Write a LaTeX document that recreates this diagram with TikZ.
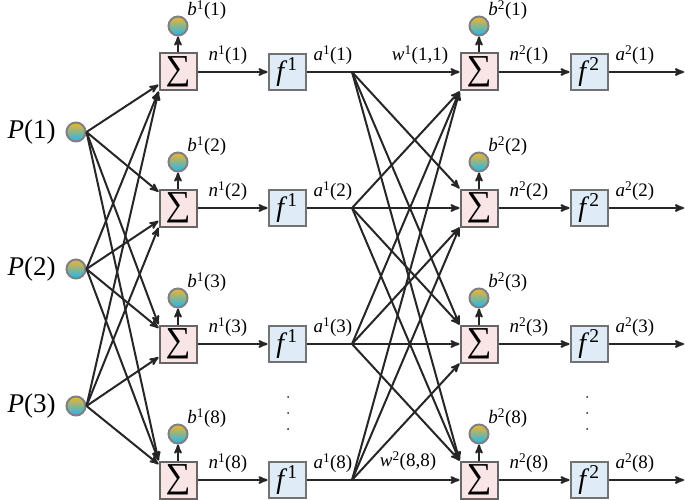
\documentclass[tikz,border=0pt]{standalone}
\usepackage{xcolor}
\usepackage{fontspec}
\setmainfont{Liberation Serif}
\usepackage{tikz}
\usetikzlibrary{arrows, positioning}

\definecolor{sumfill}{HTML}{F9E5E5}
\definecolor{actfill}{HTML}{DFECF8}
\definecolor{balltop}{HTML}{F3B52A}
\definecolor{ballmid}{HTML}{C6CCC4}
\definecolor{ballbot}{HTML}{1CB6F5}
\definecolor{edge}{HTML}{262626}

\tikzset{
	ball/.style={circle, draw=gray, top color=balltop, middle color=ballmid, bottom color=ballbot, minimum size=19pt, inner sep=0pt},
	sumbox/.style={draw=black!60, fill=sumfill, minimum width=37pt, minimum height=37pt, inner sep=0pt, font=\fontsize{35}{35}\selectfont},
	actbox/.style={draw=black!55, fill=actfill, minimum width=37pt, minimum height=36pt, inner sep=0pt, font=\fontsize{28}{28}\selectfont},
	lbl/.style={inner sep=1pt, font=\fontsize{19}{19}\selectfont},
	inlbl/.style={inner sep=1pt, font=\fontsize{27}{27}\selectfont}
}

\begin{document}
\begin{tikzpicture}[x=1pt, y=-1pt,
					->,
					>=stealth',
					line width=2pt,
					draw=edge]
					\useasboundingbox (0,0) rectangle (685,500);

					% inputs
					\node[ball] (in1) at (76,132) {};
					\node[ball] (in2) at (76,269) {};
					\node[ball] (in3) at (76,406) {};
					\node[inlbl] (tin1) [left=8pt of in1] {\textit{P}(1)};
					\node[inlbl] (tin2) [left=8pt of in2] {\textit{P}(2)};
					\node[inlbl] (tin3) [left=8pt of in3] {\textit{P}(3)};

					% layer 1
					\node[sumbox] (sa1) at (178,72) {∑};
					\node[sumbox] (sa2) at (178,208) {∑};
					\node[sumbox] (sa3) at (178,344) {∑};
					\node[sumbox] (sa4) at (178,480) {∑};
					\node[ball] (ba1) [above=16pt of sa1] {};
					\node[ball] (ba2) [above=16pt of sa2] {};
					\node[ball] (ba3) [above=16pt of sa3] {};
					\node[ball] (ba4) [above=16pt of sa4] {};
					\node[lbl, anchor=south west] (tba1) at ([yshift=-3pt]ba1.north east) {\textit{b}\textsuperscript{1}(1)};
					\node[lbl, anchor=south west] (tba2) at ([yshift=-3pt]ba2.north east) {\textit{b}\textsuperscript{1}(2)};
					\node[lbl, anchor=south west] (tba3) at ([yshift=-3pt]ba3.north east) {\textit{b}\textsuperscript{1}(3)};
					\node[lbl, anchor=south west] (tba4) at ([yshift=-3pt]ba4.north east) {\textit{b}\textsuperscript{1}(8)};
					\node[actbox] (fa1) at (287,72) {\textit{f}\textsuperscript{1}};
					\node[actbox] (fa2) at (287,208) {\textit{f}\textsuperscript{1}};
					\node[actbox] (fa3) at (287,344) {\textit{f}\textsuperscript{1}};
					\node[actbox] (fa4) at (287,480) {\textit{f}\textsuperscript{1}};
					\node[lbl, anchor=south west] (tna1) at ([xshift=9pt, yshift=5pt]sa1.east) {\textit{n}\textsuperscript{1}(1)};
					\node[lbl, anchor=south west] (tna2) at ([xshift=9pt, yshift=5pt]sa2.east) {\textit{n}\textsuperscript{1}(2)};
					\node[lbl, anchor=south west] (tna3) at ([xshift=9pt, yshift=5pt]sa3.east) {\textit{n}\textsuperscript{1}(3)};
					\node[lbl, anchor=south west] (tna4) at ([xshift=9pt, yshift=5pt]sa4.east) {\textit{n}\textsuperscript{1}(8)};
					\node[lbl, anchor=south west] (taa1) at ([xshift=5pt, yshift=5pt]fa1.east) {\textit{a}\textsuperscript{1}(1)};
					\node[lbl, anchor=south west] (taa2) at ([xshift=5pt, yshift=5pt]fa2.east) {\textit{a}\textsuperscript{1}(2)};
					\node[lbl, anchor=south west] (taa3) at ([xshift=5pt, yshift=5pt]fa3.east) {\textit{a}\textsuperscript{1}(3)};
					\node[lbl, anchor=south west] (taa4) at ([xshift=5pt, yshift=5pt]fa4.east) {\textit{a}\textsuperscript{1}(8)};
					\coordinate (ja1) at (352,72);
					\coordinate (ja2) at (352,208);
					\coordinate (ja3) at (352,344);
					\coordinate (ja4) at (352,480);

					% layer 2
					\node[sumbox] (sb1) at (479,72) {∑};
					\node[sumbox] (sb2) at (479,208) {∑};
					\node[sumbox] (sb3) at (479,344) {∑};
					\node[sumbox] (sb4) at (479,480) {∑};
					\node[ball] (bb1) [above=16pt of sb1] {};
					\node[ball] (bb2) [above=16pt of sb2] {};
					\node[ball] (bb3) [above=16pt of sb3] {};
					\node[ball] (bb4) [above=16pt of sb4] {};
					\node[lbl, anchor=south west] (tbb1) at ([yshift=-3pt]bb1.north east) {\textit{b}\textsuperscript{2}(1)};
					\node[lbl, anchor=south west] (tbb2) at ([yshift=-3pt]bb2.north east) {\textit{b}\textsuperscript{2}(2)};
					\node[lbl, anchor=south west] (tbb3) at ([yshift=-3pt]bb3.north east) {\textit{b}\textsuperscript{2}(3)};
					\node[lbl, anchor=south west] (tbb4) at ([yshift=-3pt]bb4.north east) {\textit{b}\textsuperscript{2}(8)};
					\node[actbox] (fb1) at (589,72) {\textit{f}\textsuperscript{2}};
					\node[actbox] (fb2) at (589,208) {\textit{f}\textsuperscript{2}};
					\node[actbox] (fb3) at (589,344) {\textit{f}\textsuperscript{2}};
					\node[actbox] (fb4) at (589,480) {\textit{f}\textsuperscript{2}};
					\node[lbl, anchor=south west] (tnb1) at ([xshift=9pt, yshift=5pt]sb1.east) {\textit{n}\textsuperscript{2}(1)};
					\node[lbl, anchor=south west] (tnb2) at ([xshift=9pt, yshift=5pt]sb2.east) {\textit{n}\textsuperscript{2}(2)};
					\node[lbl, anchor=south west] (tnb3) at ([xshift=9pt, yshift=5pt]sb3.east) {\textit{n}\textsuperscript{2}(3)};
					\node[lbl, anchor=south west] (tnb4) at ([xshift=9pt, yshift=5pt]sb4.east) {\textit{n}\textsuperscript{2}(8)};
					\node[lbl, anchor=south west] (tab1) at ([xshift=5pt, yshift=5pt]fb1.east) {\textit{a}\textsuperscript{2}(1)};
					\node[lbl, anchor=south west] (tab2) at ([xshift=5pt, yshift=5pt]fb2.east) {\textit{a}\textsuperscript{2}(2)};
					\node[lbl, anchor=south west] (tab3) at ([xshift=5pt, yshift=5pt]fb3.east) {\textit{a}\textsuperscript{2}(3)};
					\node[lbl, anchor=south west] (tab4) at ([xshift=5pt, yshift=5pt]fb4.east) {\textit{a}\textsuperscript{2}(8)};
					\coordinate (out1) at (684,72);
					\coordinate (out2) at (684,208);
					\coordinate (out3) at (684,344);
					\coordinate (out4) at (684,480);
					\node[lbl, anchor=south] (tw1) at ([xshift=68pt, yshift=5pt]ja1) {\textit{w}\textsuperscript{1}(1,1)};
					\node[lbl, anchor=south] (tw4) at ([xshift=56pt, yshift=7pt]ja4) {\textit{w}\textsuperscript{2}(8,8)};

					% dots
					\fill[edge] (288,397) circle (1pt) (288,413) circle (1pt) (288,429) circle (1pt);
					\fill[edge] (587,397) circle (1pt) (587,413) circle (1pt) (587,429) circle (1pt);

					% inputs to layer 1
					\draw (in1.east) -- (sa1);
					\draw (in1.east) -- (sa2);
					\draw (in1.east) -- (sa3.north west);
					\draw (in1.east) -- (sa4.north west);
					\draw (in2.east) -- (sa1.south west);
					\draw (in2.east) -- (sa2);
					\draw (in2.east) -- (sa3);
					\draw (in2.east) -- (sa4.north west);
					\draw (in3.east) -- (sa1.south west);
					\draw (in3.east) -- (sa2.south west);
					\draw (in3.east) -- (sa3);
					\draw (in3.east) -- (sa4);

					% biases and forward path
					\draw (sa1) -- (ba1); \draw (sa2) -- (ba2); \draw (sa3) -- (ba3); \draw (sa4) -- (ba4);
					\draw (sb1) -- (bb1); \draw (sb2) -- (bb2); \draw (sb3) -- (bb3); \draw (sb4) -- (bb4);
					\draw (sa1) -- (fa1); \draw (sa2) -- (fa2); \draw (sa3) -- (fa3); \draw (sa4) -- (fa4);
					\draw (fa1) -- (sb1); \draw (fa2) -- (sb2); \draw (fa3) -- (sb3); \draw (fa4) -- (sb4);
					\draw (sb1) -- (fb1); \draw (sb2) -- (fb2); \draw (sb3) -- (fb3); \draw (sb4) -- (fb4);
					\draw (fb1) -- (out1); \draw (fb2) -- (out2); \draw (fb3) -- (out3); \draw (fb4) -- (out4);

					% layer 1 to layer 2
					\draw (ja1) -- (sb2.north west);
					\draw (ja1) -- (sb3.north west);
					\draw (ja1) -- (sb4.north west);
					\draw (ja2) -- (sb1.south west);
					\draw (ja2) -- (sb3.north west);
					\draw (ja2) -- (sb4.north west);
					\draw (ja3) -- (sb1.south west);
					\draw (ja3) -- (sb2.south west);
					\draw (ja3) -- (sb4.north west);
					\draw (ja4) -- (sb1.south west);
					\draw (ja4) -- (sb2.south west);
					\draw (ja4) -- (sb3.south west);
				\end{tikzpicture}
\end{document}
